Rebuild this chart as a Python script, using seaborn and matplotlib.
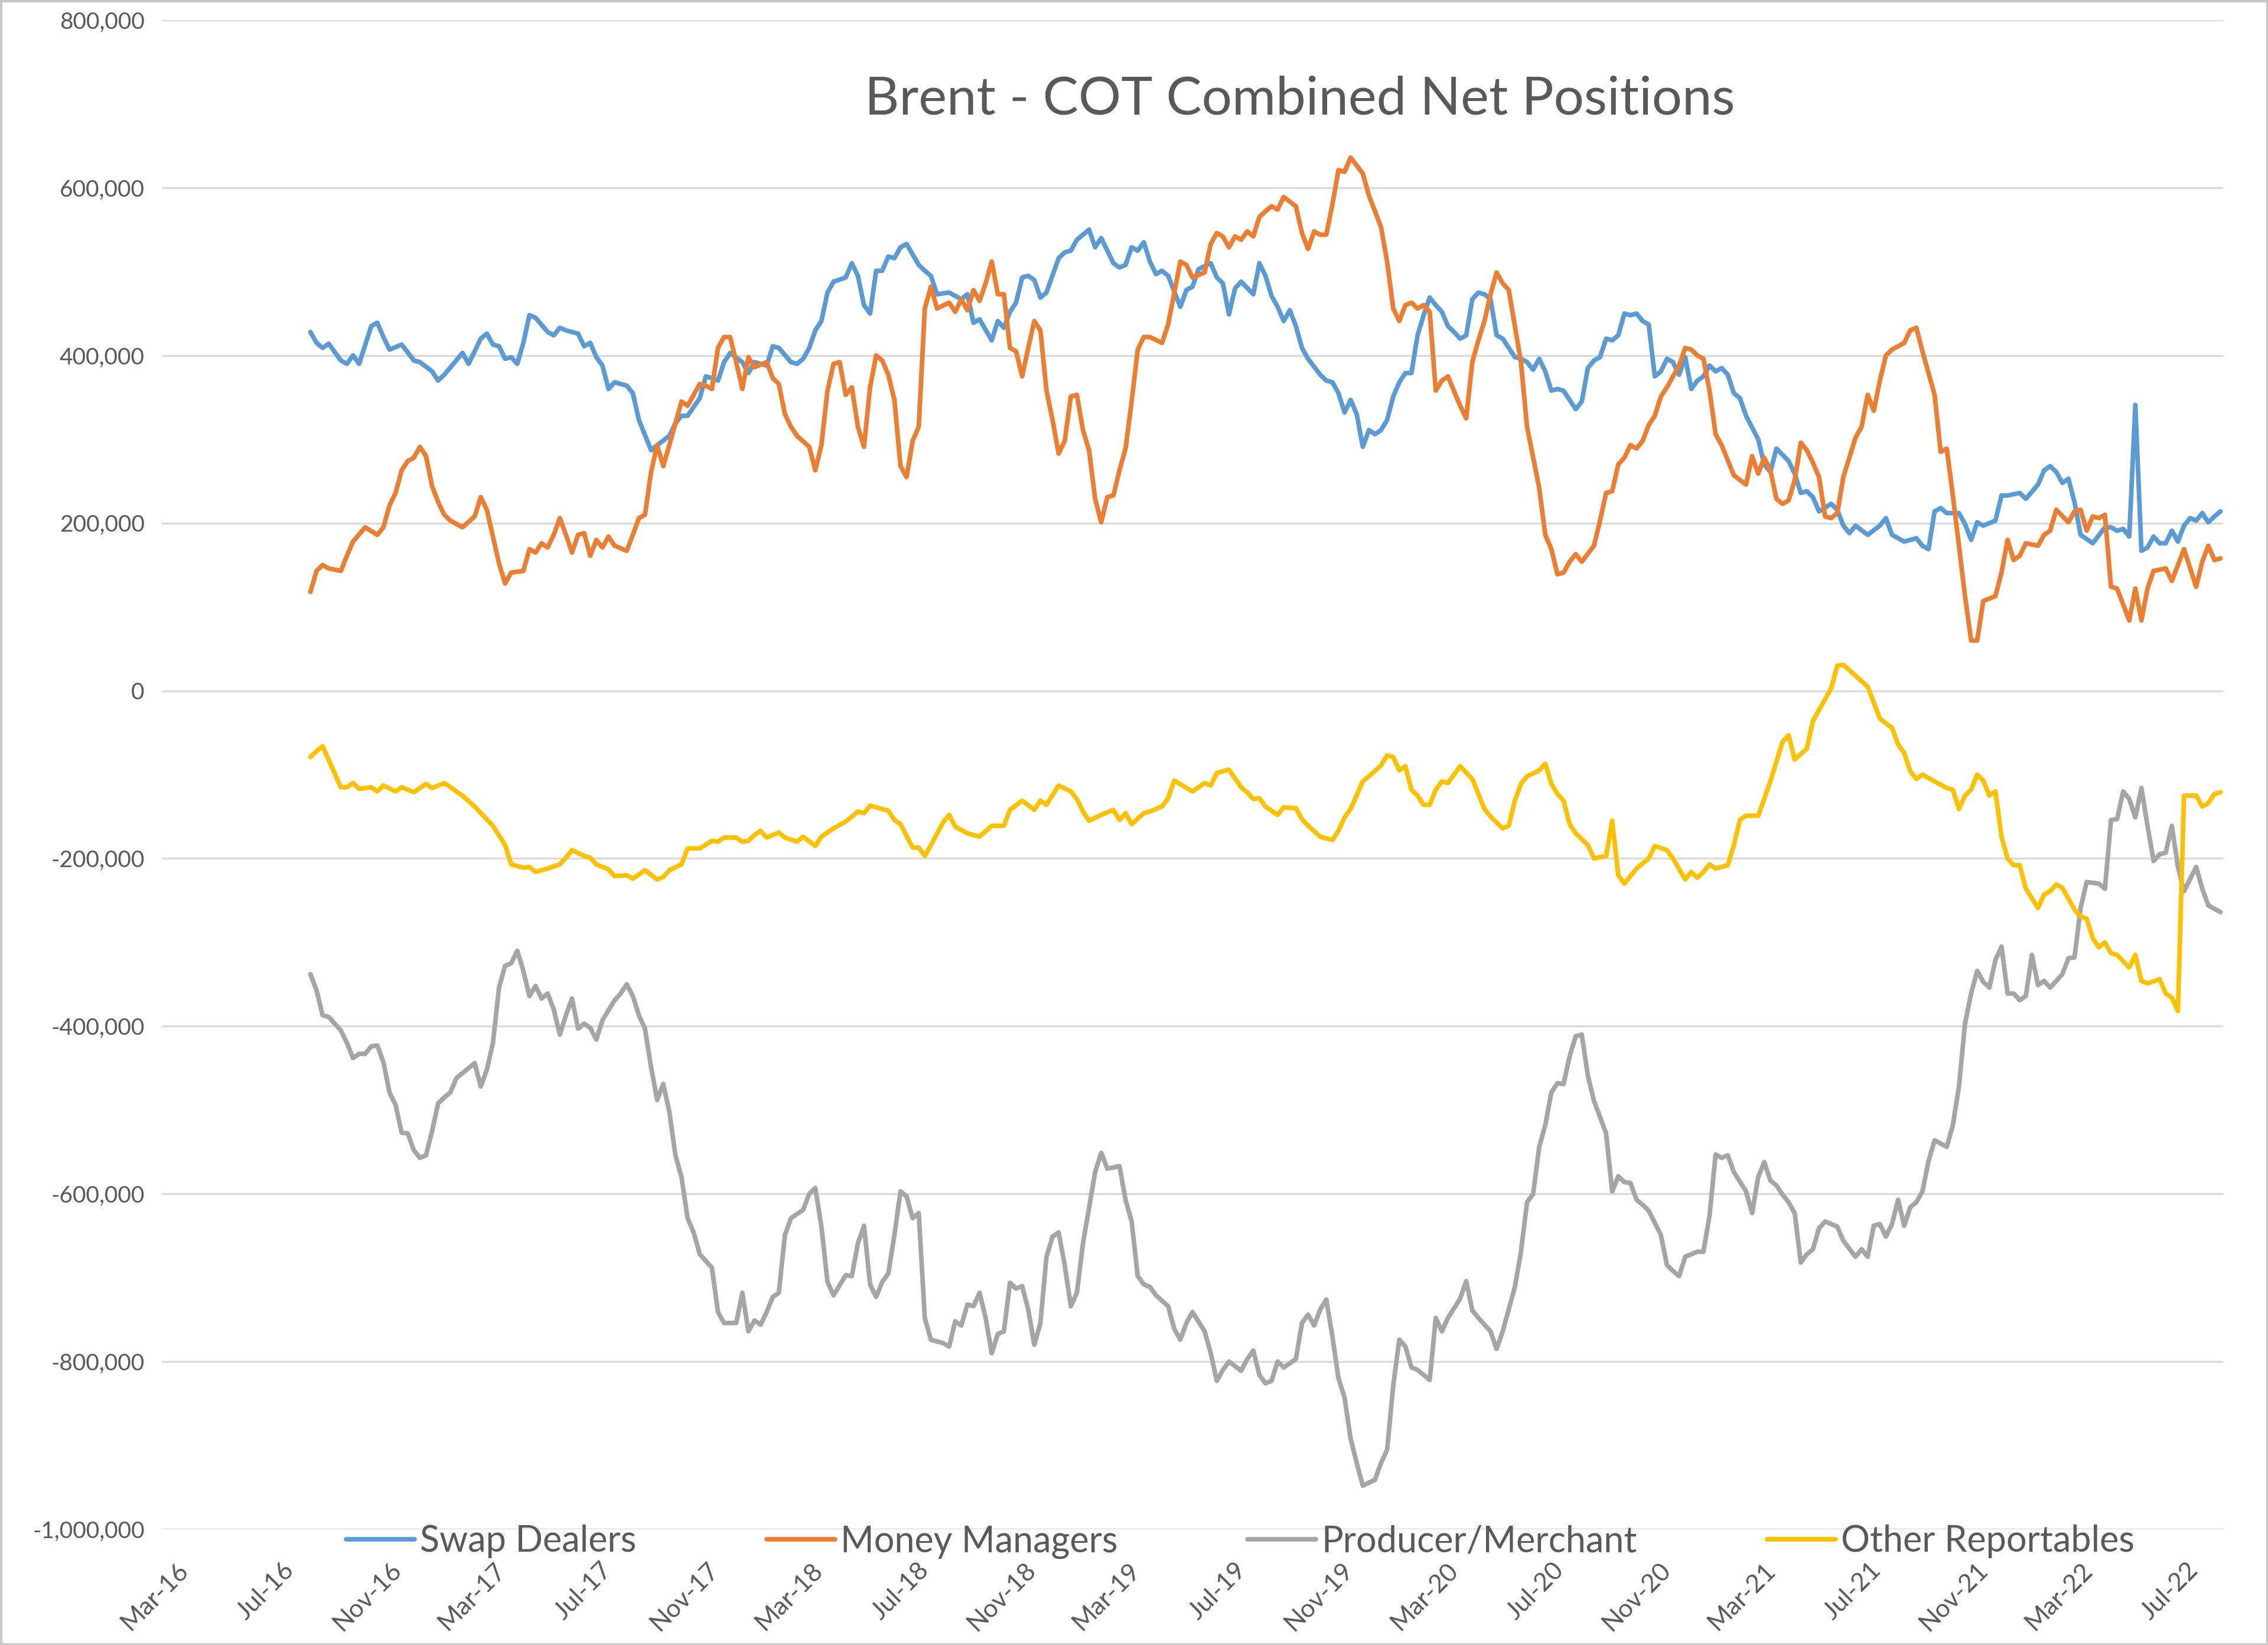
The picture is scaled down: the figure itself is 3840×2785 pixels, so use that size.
import matplotlib
matplotlib.use("Agg")
import matplotlib.pyplot as plt
import matplotlib.dates as mdates
import matplotlib.ticker as mticker
from matplotlib.patches import Rectangle
import pandas as pd
import seaborn as sns

# weekly COT report, week 0 = first report shown
start_date = "2016-08-02"

series_names = ["Swap Dealers", "Money Managers", "Producer/Merchant", "Other Reportables"]
series_colors = ["#5B9BD5", "#ED7D31", "#A5A5A5", "#FFC000"]

# --- net positions in thousands of contracts ---
swap_weeks = [0, 1, 2, 3, 5, 6, 7, 8, 10, 11, 12, 13, 15, 17, 18, 20, 21, 22, 25, 26, 28, 29, 30, 31, 32, 33, 34, 35, 36, 37,
              39, 40, 41, 42, 44, 45, 46, 47, 48, 49, 50, 52, 53, 54, 56, 57, 59, 60, 61, 62, 64, 65, 66, 67, 68, 69, 71, 72,
              73, 75, 76, 77, 79, 80, 81, 82, 83, 84, 85, 86, 88, 89, 90, 91, 92, 93, 94, 95, 96, 97, 98, 100, 101, 102, 103,
              105, 107, 108, 109, 110, 112, 113, 114, 115, 116, 117, 118, 119, 120, 121, 123, 124, 125, 126, 128, 129, 130,
              132, 133, 134, 135, 136, 137, 138, 139, 140, 141, 143, 144, 145, 146, 148, 149, 150, 151, 152, 153, 155, 156,
              157, 158, 159, 160, 161, 162, 163, 164, 166, 167, 168, 169, 170, 171, 172, 173, 174, 175, 176, 177, 178, 179,
              180, 181, 182, 183, 184, 185, 186, 187, 188, 189, 190, 191, 192, 193, 194, 195, 196, 197, 198, 199, 200, 201,
              202, 203, 204, 205, 206, 207, 208, 209, 210, 211, 212, 213, 214, 215, 216, 217, 218, 219, 220, 221, 222, 223,
              224, 225, 226, 227, 228, 229, 230, 231, 232, 233, 234, 235, 236, 238, 239, 240, 241, 243, 244, 245, 246, 247,
              248, 250, 251, 252, 253, 254, 256, 258, 259, 260, 262, 264, 265, 266, 267, 268, 269, 271, 272, 273, 274, 275,
              277, 278, 279, 281, 282, 284, 285, 286, 287, 288, 289, 290, 291, 293, 295, 296, 297, 298, 299, 300, 301, 302,
              303, 304, 305, 306, 307, 308, 309, 310, 311, 312, 313, 314]
swap_k = [428, 415, 409, 414, 394, 390, 400, 390, 435, 439, 422, 407, 413, 394, 392, 381, 370, 377, 403, 390, 420, 426, 413, 411,
          396, 398, 390, 415, 448, 445, 428, 424, 433, 430, 426, 411, 415, 398, 388, 360, 368, 364, 355, 323, 287, 293, 304,
          319, 328, 328, 349, 375, 373, 370, 392, 403, 392, 379,
          392, 388, 411, 409, 392, 390, 396, 409, 430, 441, 475, 488, 493, 510, 495, 460, 450, 501, 501, 518, 516, 529, 533,
          508, 501, 495, 473, 475, 467, 473, 439, 443, 418, 441, 433, 452, 463, 493, 495, 490, 469, 475, 516, 523, 525, 538,
          550, 529, 540, 510, 505, 508, 529, 525, 535, 512, 497, 501, 495, 458, 478, 482, 503, 510, 493, 486, 449, 480, 488,
          473, 510, 495, 471, 458, 441, 454, 435, 409, 396, 377, 370, 368, 355, 332, 347, 330, 291, 311, 306, 311, 323, 351,
          368, 379, 379, 424, 448, 469, 460, 452, 435, 428, 420, 424, 467, 475, 473, 467, 424, 420, 409, 398, 396, 392, 383,
          396, 381, 358, 360, 358, 347, 336, 345, 385, 394, 398, 420, 418, 424, 450, 448, 450, 441, 437, 375, 381, 396, 392,
          377, 398, 360, 370, 375, 388, 381, 385, 377, 355, 349, 328, 300, 270, 261, 289, 274, 259, 236, 238, 231, 214, 223,
          216, 197, 188, 197, 186, 197, 206, 186, 178, 182, 173, 169, 214, 218, 212, 212, 199, 180, 201, 197, 203, 233, 233,
          236, 229, 246, 263, 268, 261, 248, 253, 225, 186, 176, 195, 195, 191, 193, 184, 341, 167, 171, 184, 176, 176, 191,
          178, 197, 206, 203, 212, 201, 208, 214]

money_weeks = [0, 1, 2, 3, 5, 6, 7, 9, 11, 12, 13, 14, 15, 16, 17, 18, 19, 20, 21, 22, 23, 25, 27, 28, 29, 31, 32, 33, 35, 36,
               37, 38, 39, 40, 41, 42, 43, 44, 45, 46, 47, 48, 49, 50, 52, 53, 54, 55, 56, 57, 58, 59, 60, 61, 62, 64, 65, 66,
               67, 68, 69, 70, 71, 72, 73, 75, 76, 77, 78, 79, 80, 82, 83, 84, 85, 86, 87, 88, 89, 90, 91, 92, 93, 94, 95, 96,
               97, 98, 99, 100, 101, 102, 103, 105, 106, 107, 108, 109, 110, 111, 112, 113, 114, 115, 116, 117, 118, 119, 120,
               121, 122, 123, 124, 125, 126, 127, 128, 129, 130, 131, 132, 133, 134, 135, 136, 137, 138, 140, 141, 143, 144,
               145, 147, 148, 149, 150, 151, 152, 153, 154, 155, 156, 157, 158, 159, 160, 162, 163, 164, 165, 166, 167, 168,
               169, 170, 171, 173, 174, 176, 177, 178, 179, 180, 181, 182, 183, 184, 185, 186, 187, 189, 190, 191, 192, 193,
               194, 195, 196, 197, 199, 200, 202, 203, 204, 205, 206, 207, 208, 209, 211, 212, 213, 214, 215, 216, 217, 218,
               219, 220, 221, 222, 223, 225, 226, 227, 228, 229, 230, 231, 232, 234, 236, 237, 238, 239, 240, 241, 242, 243,
               244, 245, 246, 247, 248, 249, 250, 251, 252, 254, 255, 256, 257, 258, 259, 260, 262, 263, 264, 265, 267, 268,
               269, 270, 272, 273, 274, 275, 277, 278, 279, 280, 281, 282, 284, 285, 286, 287, 289, 290, 291, 292, 293, 294,
               295, 296, 297, 299, 300, 301, 302, 303, 305, 306, 308, 310, 311, 312, 313, 314]
money_k = [118, 143, 150, 146, 143, 161, 178, 195, 186, 195, 221, 236, 263, 274, 278, 291, 280, 244, 225, 210, 203, 195, 208,
           231, 216, 152, 128, 141, 143, 169, 165, 176, 171, 186, 206, 186, 165, 186, 188, 161, 180, 171, 184, 173, 167, 186,
           206, 210, 261, 293, 268, 293, 319, 345, 340, 366, 364, 360, 409, 422, 422, 392, 360, 398, 386, 392, 373, 366, 330,
           315, 304, 291, 263, 293, 358, 390, 392, 353, 362, 315, 291, 362, 400, 394, 377, 347, 268, 255, 298, 315, 456, 482,
           456, 463, 452, 467, 454, 478, 465, 486, 512, 473, 473, 409, 405, 375, 409, 441, 430, 358, 323, 283, 298, 351, 353,
           311, 287, 229, 201, 231, 233, 263, 289, 345, 407, 422, 422, 415, 437, 512, 508, 493, 499, 533, 546, 542, 529, 542,
           538, 548, 542, 565, 572, 578, 574, 589, 578, 546, 527, 548, 544, 544, 580, 621, 619, 636, 617, 591, 553, 512, 456,
           441, 460, 463, 456, 460, 452, 358, 370, 375, 340, 325, 392, 418, 441, 473, 499, 486, 478, 392, 315, 242, 186, 169,
           139, 141, 154, 163, 154, 173, 203, 236, 238, 270, 278, 293, 289, 298, 317, 328, 351, 362, 388, 409, 407, 400, 396,
           358, 306, 293, 257, 246, 280, 259, 278, 263, 229, 223, 227, 251, 296, 287, 272, 255, 208, 206, 212, 255, 302, 315,
           353, 334, 370, 400, 407, 415, 430, 433, 405, 353, 285, 289, 233, 113, 60, 60, 107, 113, 141, 180, 156, 161, 176,
           173, 186, 191, 216, 201, 214, 216, 191, 208, 206, 210, 124, 122, 84, 122, 84, 122, 143, 146, 131, 169, 124, 154,
           173, 156, 158]

producer_weeks = [0, 1, 2, 3, 4, 5, 6, 7, 8, 9, 10, 11, 12, 13, 14, 15, 16, 17, 18, 19, 20, 21, 22, 23, 24, 25, 27, 28, 29, 30,
                  31, 32, 33, 34, 35, 36, 37, 38, 39, 40, 41, 42, 43, 44, 45, 46, 47, 48, 50, 51, 52, 53, 54, 55, 56, 57, 58,
                  59, 60, 61, 62, 63, 64, 66, 67, 68, 70, 71, 72, 73, 74, 75, 76, 77, 78, 79, 81, 82, 83, 84, 85, 86, 88, 89,
                  90, 91, 92, 93, 94, 95, 96, 97, 98, 99, 100, 101, 102, 104, 105, 106, 107, 108, 109, 110, 111, 112, 113, 114,
                  115, 116, 117, 118, 119, 120, 121, 122, 123, 124, 125, 126, 127, 129, 130, 131, 133, 134, 135, 136, 137, 138,
                  139, 141, 142, 143, 144, 145, 147, 148, 149, 150, 151, 153, 154, 155, 156, 157, 158, 159, 160, 162, 163, 164,
                  165, 166, 167, 168, 169, 170, 171, 172, 173, 175, 176, 177, 178, 179, 180, 181, 182, 184, 185, 186, 187, 189,
                  190, 191, 192, 194, 195, 196, 198, 199, 200, 201, 202, 203, 204, 205, 206, 207, 208, 209, 210, 211, 213, 214,
                  215, 216, 217, 218, 219, 220, 222, 223, 224, 225, 226, 228, 229, 230, 231, 232, 233, 234, 236, 237, 238, 239,
                  240, 241, 242, 243, 244, 245, 246, 247, 248, 249, 251, 252, 254, 255, 256, 257, 258, 259, 260, 261, 262, 263,
                  264, 265, 266, 267, 269, 270, 271, 272, 273, 274, 275, 276, 277, 278, 279, 280, 281, 282, 283, 284, 285, 286,
                  288, 289, 290, 291, 292, 294, 295, 296, 297, 298, 299, 300, 301, 302, 303, 304, 305, 306, 307, 308, 310, 311,
                  312, 314]
producer_k = [-338, -357, -387, -389, -397, -405, -420, -438, -433, -433, -424, -423, -443, -479, -494, -527, -528, -548, -557,
              -554, -525, -492, -485, -479, -462, -456, -444, -472, -452, -420, -354, -328, -325, -310, -334, -364, -352, -367,
              -361, -380, -410, -387, -367, -403, -397, -402, -416, -393, -369, -361, -350, -364, -387, -403, -449, -488, -469,
              -502, -554, -580, -629, -646, -672, -688, -741, -754, -754, -718, -764, -751, -756, -741, -723, -718, -649, -629,
              -619, -600, -593, -639, -705, -721, -697, -698, -659, -638, -708, -723, -705, -695, -649, -597, -603, -629, -623,
              -748, -774, -778, -782, -752, -757, -732, -734, -718, -748, -790, -767, -764, -706, -713, -710, -738, -780, -754,
              -675, -651, -646, -685, -734, -718, -659, -574, -551, -570, -567, -607, -633, -698, -708, -711, -721, -734, -761,
              -774, -754, -741, -764, -790, -823, -810, -800, -811, -797, -787, -816, -826, -823, -800, -807, -797, -754, -744,
              -757, -738, -726, -770, -820, -843, -892, -921, -948, -941, -921, -905, -829, -774, -782, -807, -810, -822, -748,
              -764, -748, -725, -704, -739, -748, -764, -785, -764, -711, -669, -610, -600, -544, -518, -479, -468, -469, -436,
              -412, -410, -459, -489, -528, -597, -579, -586, -587, -607, -613, -620, -649, -685, -692, -698, -675, -669, -669,
              -626, -553, -557, -554, -574, -597, -623, -580, -562, -584, -590, -601, -610, -623, -682, -672, -666, -641, -633,
              -639, -656, -675, -666, -675, -638, -636, -651, -636, -607, -638, -616, -610, -597, -561, -536, -544, -518, -472,
              -397, -361, -334, -347, -354, -321, -305, -361, -361, -369, -364, -315, -351, -346, -354, -338, -319, -318, -259,
              -228, -230, -236, -154, -153, -120, -129, -151, -116, -161, -203, -195, -193, -161, -210, -239, -210, -236, -256,
              -264]

other_weeks = [0, 1, 2, 5, 6, 7, 8, 10, 11, 12, 14, 15, 17, 19, 20, 22, 23, 25, 27, 30, 32, 33, 35, 36, 37, 39, 41, 42, 43, 45,
               46, 47, 49, 50, 52, 53, 55, 57, 58, 59, 61, 62, 64, 66, 67, 68, 70, 71, 72, 73, 74, 75, 77, 78, 80, 81, 83, 84,
               86, 88, 90, 91, 92, 95, 96, 97, 99, 100, 101, 102, 104, 105, 106, 108, 110, 112, 114, 115, 117, 119, 120, 121,
               123, 125, 126, 127, 128, 130, 132, 133, 134, 135, 137, 138, 140, 141, 142, 145, 147, 148, 149, 151, 153, 154,
               155, 156, 157, 159, 160, 162, 163, 164, 166, 168, 169, 170, 171, 173, 174, 176, 177, 178, 179, 180, 181, 182,
               183, 184, 185, 186, 187, 189, 191, 193, 194, 196, 197, 198, 199, 200, 202, 203, 204, 205, 206, 207, 208, 210,
               211, 213, 214, 215, 216, 218, 220, 221, 223, 224, 226, 227, 228, 229, 230, 231, 233, 234, 235, 236, 238, 239,
               240, 242, 243, 244, 246, 247, 248, 250, 251, 252, 254, 256, 258, 259, 260, 261, 262, 263, 264, 265, 267, 269,
               270, 271, 272, 273, 274, 275, 276, 277, 278, 279, 280, 281, 282, 284, 285, 286, 287, 288, 290, 291, 292, 293,
               294, 295, 296, 297, 299, 300, 301, 302, 304, 305, 306, 307, 308, 309, 310, 311, 312, 313, 314]
other_k = [-79, -72, -66, -115, -115, -110, -117, -115, -120, -113, -120, -115, -121, -111, -116, -110, -115, -125, -138, -161,
           -184, -207, -211, -210, -216, -212, -207, -199, -190, -197, -199, -207, -213, -221, -220, -224, -214, -225, -222,
           -214, -207, -188, -188, -179, -180, -175, -175, -180, -179, -172, -167, -175, -169, -175, -180, -174, -185, -174,
           -164, -156, -144, -146, -137, -143, -154, -159, -187, -187, -197, -184, -157, -148, -162, -170, -174, -161, -161,
           -142, -131, -142, -131, -136, -113, -120, -129, -144, -155, -148, -142, -154, -146, -159, -146, -144, -138, -128,
           -107, -120, -110, -113, -98, -94, -115, -121, -129, -128, -138, -148, -139, -140, -153, -161, -174, -178, -167,
           -151, -141, -108, -102, -89, -77, -79, -95, -90, -118, -125, -136, -136, -118, -108, -110, -90, -105, -141, -150,
           -164, -161, -131, -111, -102, -95, -87, -111, -123, -131, -159, -170, -184, -200, -197, -155, -220, -230, -212,
           -200, -185, -190, -200, -225, -216, -223, -216, -207, -212, -208, -184, -154, -149, -149, -129, -108, -61, -53,
           -82, -69, -36, -23, 3, 30, 31, 18, 5, -33, -39, -44, -64, -74, -96, -105, -100, -108, -116, -118, -141, -125, -118,
           -100, -107, -125, -120, -174, -200, -208, -208, -236, -259, -243, -239, -231, -235, -261, -269, -272, -295, -306,
           -300, -313, -315, -330, -315, -346, -349, -344, -361, -366, -382, -125, -125, -125, -138, -134, -123, -121]

# y axis ticks and x axis window
y_ticks = list(range(-1_000_000, 800_001, 200_000))
x_window = ("2016-02-13", "2022-08-12")
title_text = "Brent - COT Combined Net Positions"
text_grey = "#595959"


def build_frame():
    parts = []
    all_weeks = [swap_weeks, money_weeks, producer_weeks, other_weeks]
    all_vals = [swap_k, money_k, producer_k, other_k]
    for name, weeks, vals in zip(series_names, all_weeks, all_vals):
        dates = pd.Timestamp(start_date) + pd.to_timedelta([7 * w for w in weeks], unit="D")
        parts.append(pd.DataFrame({"date": dates, "net": [v * 1000 for v in vals], "group": name}))
    return pd.concat(parts, ignore_index=True)


df = build_frame()

sns.set_theme(style="white")
plt.rcParams["font.family"] = ["Lato", "DejaVu Sans"]

fig = plt.figure(figsize=(38.4, 27.85), dpi=100)
ax = fig.add_axes([274 / 3840, 196 / 2785, 3490 / 3840, 2555 / 2785])

sns.lineplot(data=df, x="date", y="net", hue="group", hue_order=series_names,
             palette=dict(zip(series_names, series_colors)), estimator=None, sort=True,
             linewidth=5.6, ax=ax, legend=False)

# axes styling, Excel-like
ax.set_ylim(y_ticks[0], y_ticks[-1])
ax.set_yticks(y_ticks)
ax.yaxis.set_major_formatter(mticker.FuncFormatter(lambda v, _: f"{v:,.0f}"))
ax.set_xlim(pd.Timestamp(x_window[0]), pd.Timestamp(x_window[1]))
ax.xaxis.set_major_locator(mdates.MonthLocator(bymonth=(3, 7, 11)))
ax.xaxis.set_major_formatter(mdates.DateFormatter("%b-%y"))
ax.grid(axis="y", color="#D9D9D9", linewidth=2.2)
ax.grid(axis="x", visible=False)
ax.set_axisbelow(True)
for s in ax.spines.values():
    s.set_visible(False)
ax.set_xlabel("")
ax.set_ylabel("")
ax.tick_params(axis="y", length=0, pad=21, labelsize=28, labelcolor=text_grey)
ax.tick_params(axis="x", length=0, pad=36, labelsize=31, labelcolor=text_grey)
for lbl in ax.get_xticklabels():
    lbl.set_rotation(45)
    lbl.set_ha("right")
    lbl.set_rotation_mode("anchor")

fig.text(2201 / 3840, 1 - 168 / 2785, title_text, ha="center", va="center",
         fontsize=65, color=text_grey)

ax.legend(ax.lines[:4], series_names, loc="center", ncol=4, frameon=False,
          bbox_to_anchor=(2100 / 3840, 175 / 2785), bbox_transform=fig.transFigure,
          fontsize=44, labelcolor=text_grey, handlelength=1.9, handletextpad=0.15,
          columnspacing=3.6)

fig.add_artist(Rectangle((0, 0), 1, 1, transform=fig.transFigure, fill=False,
                         edgecolor="#C8C8C8", linewidth=5))

fig.savefig("out.png", dpi=100)
print("saved out.png")
